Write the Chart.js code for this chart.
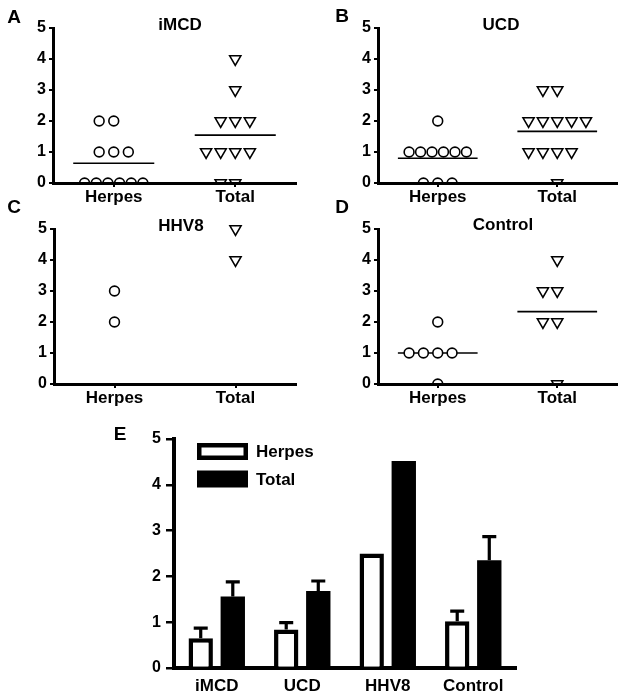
<!DOCTYPE html>
<html><head><meta charset="utf-8">
<script src="https://cdn.jsdelivr.net/npm/chart.js@4.4.0/dist/chart.umd.min.js"></script>
<style>
html,body{margin:0;padding:0;background:#fff;width:625px;height:698px;overflow:hidden;}
body{position:relative;font-family:"Liberation Sans",Arial,sans-serif;}
canvas{position:absolute;}
.lbl{position:absolute;font-weight:bold;color:#000;line-height:1;white-space:nowrap;transform:translate(-50%,-50%);}
.letter{font-size:19px;}
.title{font-size:17px;}
</style></head><body>
<canvas id="cA" width="310" height="210" style="left:0;top:0;width:310px;height:210px"></canvas>
<canvas id="cB" width="315" height="210" style="left:310px;top:0;width:315px;height:210px"></canvas>
<canvas id="cC" width="310" height="210" style="left:0;top:200px;width:310px;height:210px"></canvas>
<canvas id="cD" width="315" height="210" style="left:310px;top:200px;width:315px;height:210px"></canvas>
<canvas id="cE" width="525" height="278" style="left:100px;top:420px;width:525px;height:278px"></canvas>
<div class="lbl letter" style="left:14px;top:16px">A</div>
<div class="lbl letter" style="left:342px;top:15px">B</div>
<div class="lbl letter" style="left:14px;top:206px">C</div>
<div class="lbl letter" style="left:342px;top:206px">D</div>
<div class="lbl letter" style="left:120px;top:433px">E</div>
<div class="lbl title" id="t0" style="left:180px;top:24px"></div>
<div class="lbl title" id="t1" style="left:501px;top:24px"></div>
<div class="lbl title" id="t2" style="left:181px;top:225px"></div>
<div class="lbl title" id="t3" style="left:503px;top:224px"></div>
<script>
// ---------- data ----------
const groups = ['Herpes', 'Total'];
const panelTitles = ['iMCD', 'UCD', 'HHV8', 'Control'];
const iMCD_herpes = [2, 2, 1, 1, 1, 0, 0, 0, 0, 0, 0];
const iMCD_total = [4, 3, 2, 2, 2, 1, 1, 1, 1, 0, 0];
const UCD_herpes = [2, 1, 1, 1, 1, 1, 1, 0, 0, 0];
const UCD_total = [3, 3, 2, 2, 2, 2, 2, 1, 1, 1, 1, 0];
const HHV8_herpes = [3, 2];
const HHV8_total = [5, 4];
const Control_herpes = [2, 1, 1, 1, 1, 0];
const Control_total = [4, 3, 3, 2, 2, 0];
const showMeanLine = [true, true, false, true];
const barCategories = ['iMCD', 'UCD', 'HHV8', 'Control'];
const herpesMean = [0.65, 0.84, 2.5, 1.02];
const totalMean = [1.56, 1.68, 4.52, 2.35];
const herpesSem = [0.22, 0.15, null, 0.22];
const totalSem = [0.32, 0.22, null, 0.52];
const yMin = 0, yMax = 5;

// ---------- helpers ----------
const FONT = '"Liberation Sans", Arial, sans-serif';
Chart.defaults.font.family = FONT;
Chart.defaults.color = '#000';
panelTitles.forEach((t, i) => { document.getElementById('t' + i).textContent = t; });

const STEP = 0.24;      // horizontal spacing between coincident points (x units)
const HALF = 0.667;     // half width of mean line (x units)
function spread(vals, center) {
  const counts = {}, seen = {};
  vals.forEach(v => counts[v] = (counts[v] || 0) + 1);
  return vals.map(v => {
    const n = counts[v];
    const i = seen[v] = (seen[v] === undefined ? 0 : seen[v] + 1);
    const off = n <= 5 ? (i - Math.floor(n / 2)) : (-2 + 4 * i / (n - 1));
    return { x: center + off * STEP, y: v };
  });
}
const avg = a => a.reduce((s, v) => s + v, 0) / a.length;

function makePanel(id, herpes, total, withMean, area, W, H) {
  const pointClip = { left: false, top: false, right: false, bottom: -1 };
  const datasets = [
    { label: groups[0], data: spread(herpes, 1), pointStyle: 'circle', pointRadius: 4.9,
      pointBorderWidth: 1.6, pointBorderColor: '#000', pointBackgroundColor: '#fff', clip: pointClip },
    { label: groups[1], data: spread(total, 3), pointStyle: 'triangle', pointRotation: 180, pointRadius: 6.4,
      pointBorderWidth: 1.6, pointBorderColor: '#000', pointBackgroundColor: '#fff', clip: pointClip }
  ];
  if (withMean) {
    [herpes, total].forEach((vals, k) => {
      const m = avg(vals), c = 1 + 2 * k;
      datasets.push({ data: [{ x: c - HALF, y: m }, { x: c + HALF, y: m }], showLine: true,
        borderColor: '#000', borderWidth: 1.6, pointRadius: 0, clip: false });
    });
  }
  const tickFont = { family: FONT, weight: 'bold' };
  new Chart(document.getElementById(id), {
    type: 'scatter',
    data: { datasets },
    options: {
      responsive: false, animation: false, events: [],
      layout: { padding: { left: 0, top: area.top, right: W - area.right, bottom: 0 } },
      plugins: { legend: { display: false }, tooltip: { enabled: false } },
      scales: {
        x: {
          type: 'linear', min: 0, max: 4,
          afterBuildTicks: s => { s.ticks = [{ value: 1 }, { value: 3 }]; },
          afterFit: s => { s.height = H - area.bottom; },
          grid: { display: true, drawOnChartArea: false, drawTicks: true, tickLength: 4, color: '#000', lineWidth: 2 },
          border: { display: true, color: '#000', width: 3 },
          ticks: { callback: v => groups[(v - 1) / 2], font: { ...tickFont, size: 17 }, color: '#000',
            padding: 0, maxRotation: 0, autoSkip: false }
        },
        y: {
          min: yMin, max: yMax,
          afterFit: s => { s.width = area.left; },
          grid: { display: true, drawOnChartArea: false, drawTicks: true, tickLength: 4, color: '#000', lineWidth: 2 },
          border: { display: true, color: '#000', width: 3 },
          ticks: { stepSize: 1, font: { ...tickFont, size: 16 }, color: '#000', padding: 3 }
        }
      }
    }
  });
}

makePanel('cA', iMCD_herpes, iMCD_total, showMeanLine[0], { left: 53, top: 28, right: 296, bottom: 183 }, 310, 210);
makePanel('cB', UCD_herpes, UCD_total, showMeanLine[1], { left: 68, top: 28, right: 312, bottom: 183 }, 315, 210);
makePanel('cC', HHV8_herpes, HHV8_total, showMeanLine[2], { left: 54, top: 29, right: 296, bottom: 184 }, 310, 210);
makePanel('cD', Control_herpes, Control_total, showMeanLine[3], { left: 68, top: 29, right: 312, bottom: 184 }, 315, 210);

// ---------- panel E ----------
const errorBars = {
  id: 'errorBars',
  afterDatasetsDraw(chart) {
    const ctx = chart.ctx, y = chart.scales.y;
    chart.data.datasets.forEach((ds, i) => {
      const meta = chart.getDatasetMeta(i);
      meta.data.forEach((bar, j) => {
        const e = ds.sem[j];
        if (e == null) return;
        const top = y.getPixelForValue(ds.data[j] + e);
        const base = y.getPixelForValue(ds.data[j]);
        ctx.save();
        ctx.strokeStyle = '#000'; ctx.lineWidth = 3.2; ctx.lineCap = 'butt';
        ctx.beginPath();
        ctx.moveTo(bar.x, base); ctx.lineTo(bar.x, top);
        ctx.moveTo(bar.x - 7, top); ctx.lineTo(bar.x + 7, top);
        ctx.stroke();
        ctx.restore();
      });
    });
  }
};
const boxLegend = {
  id: 'boxLegend',
  afterDraw(chart) {
    const { ctx, chartArea: a } = chart;
    chart.data.datasets.forEach((ds, i) => {
      const x = a.left + 23, y = a.top + 4 + i * 27.5, w = 51, h = 17;
      ctx.save();
      ctx.fillStyle = ds.backgroundColor; ctx.fillRect(x, y, w, h);
      const bw = ds.borderWidth || 0;
      if (bw) {
        ctx.lineWidth = bw; ctx.strokeStyle = ds.borderColor;
        ctx.strokeRect(x + bw / 2, y + bw / 2, w - bw, h - bw);
      }
      ctx.fillStyle = '#000';
      ctx.font = 'bold 17px ' + FONT;
      ctx.textBaseline = 'middle';
      ctx.fillText(ds.label, x + w + 8, y + h / 2 + 1);
      ctx.restore();
    });
  }
};
new Chart(document.getElementById('cE'), {
  type: 'bar',
  data: {
    labels: barCategories,
    datasets: [
      { label: groups[0], data: herpesMean, sem: herpesSem, backgroundColor: '#fff', borderColor: '#000',
        borderWidth: 4.5, borderSkipped: 'start', categoryPercentage: 0.75, barPercentage: 0.76 },
      { label: groups[1], data: totalMean, sem: totalSem, backgroundColor: '#000', borderColor: '#000',
        borderWidth: 0, categoryPercentage: 0.75, barPercentage: 0.76 }
    ]
  },
  options: {
    responsive: false, animation: false, events: [],
    layout: { padding: { left: 0, top: 19, right: 525 - 416, bottom: 0 } },
    plugins: { legend: { display: false }, tooltip: { enabled: false } },
    scales: {
      x: {
        afterFit: s => { s.height = 278 - 248; },
        grid: { display: false, drawTicks: false },
        border: { display: true, color: '#000', width: 4 },
        ticks: { font: { family: FONT, weight: 'bold', size: 17 }, color: '#000', padding: 8 }
      },
      y: {
        min: yMin, max: yMax,
        afterFit: s => { s.width = 74; },
        grid: { display: true, drawOnChartArea: false, drawTicks: true, tickLength: 8, color: '#000', lineWidth: 2.5 },
        border: { display: true, color: '#000', width: 4 },
        ticks: { stepSize: 1, font: { family: FONT, weight: 'bold', size: 16 }, color: '#000', padding: 5 }
      }
    }
  },
  plugins: [errorBars, boxLegend]
});
</script>
</body></html>
